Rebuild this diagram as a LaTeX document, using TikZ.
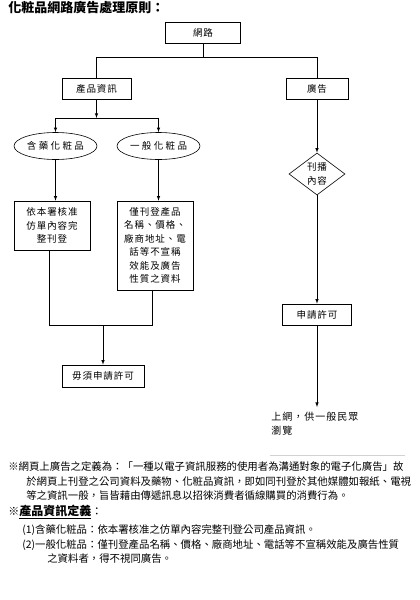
\documentclass[tikz,border=0pt]{standalone}
\usepackage{fontspec}
\setmainfont{Noto Sans CJK TC}
\newfontfamily\boxfont{Noto Sans CJK TC}[LetterSpace=10]
\newfontfamily\ovalfont{Noto Sans CJK TC}[LetterSpace=25]
\usetikzlibrary{shapes.geometric}

\begin{document}
\begin{tikzpicture}[x=1pt,y=-1pt,>=latex,line width=0.6pt,
	box/.style={draw,rectangle,inner sep=0pt,align=center,font=\boxfont\fontsize{9.5}{13.5}\selectfont},
	oval/.style={draw,ellipse,inner sep=0pt,minimum width=83pt,minimum height=27pt,font=\ovalfont\fontsize{9.5}{12}\selectfont},
	note/.style={anchor=west,inner sep=0pt,font=\fontsize{10.4}{12}\selectfont}]
		\useasboundingbox (0,0) rectangle (420,600);
		\node[anchor=west,inner sep=0pt,font=\bfseries\fontsize{13}{15}\selectfont](T) at (8,8){化粧品網路廣告處理原則：};
		\node[box,minimum width=75pt,minimum height=21pt](A) at (203,32.5){網路};
		\node[box,minimum width=69pt,minimum height=21pt](B) at (96.5,88.5){產品資訊};
		\node[box,minimum width=62pt,minimum height=21pt](C) at (317,88.5){廣告};
		\node[oval](D) at (55.5,146){含藥化粧品};
		\node[oval](E) at (158.5,146){一般化粧品};
		\node[box,minimum width=76pt,minimum height=49pt](F) at (52,225.5){依本署核准\\仿單內容完\\整刊登};
		\node[box,minimum width=76pt,minimum height=89pt](G) at (155,245.5){僅刊登產品\\名稱、價格、\\廠商地址、電\\話等不宣稱\\效能及廣告\\性質之資料};
		\node[draw,diamond,aspect=1.33,inner sep=0pt,minimum width=56pt,minimum height=42pt,align=center,font=\boxfont\fontsize{9.5}{14}\selectfont](H) at (317,174){刊播\\內容};
		\node[box,minimum width=69pt,minimum height=21pt](I) at (317,314.5){申請許可};
		\node[box,minimum width=82pt,minimum height=22pt](K) at (103,376){毋須申請許可};
		\node[anchor=north west,inner sep=0pt,align=left,font=\boxfont\fontsize{10}{14}\selectfont](J) at (271,412){上網，供一般民眾\\瀏覽};
		% joints
		\coordinate (a1) at (A.south |- 0,57);
		\coordinate (b1) at (B.south |- 0,118);
		\coordinate (f1) at (49,325);
		\coordinate (g1) at (152,325);
		\coordinate (m1) at (103,325);
		\coordinate (i1) at (317,407);
		\draw (A) -- (a1) -| (B);
		\draw (a1) -| (C);
		\draw[->] (B) -- (b1);
		\draw[->] (b1) -| (D);
		\draw[->] (b1) -| (E);
		\draw[->] (D.south) -- (D.south |- F.north);
		\draw[->] (E.south) -- (E.south |- G.north);
		\draw (F.south -| f1) -- (f1) -- (g1) -- (G.south -| g1);
		\draw[->] (m1) -- (K);
		\draw[->]
		(C) edge (H)
		(H) edge (I)
		(I) edge (i1);
		\draw[gray!35] (270,455) -- (405,455);
		% notes
		\node[note](L1) at (8,467){※網頁上廣告之定義為：「一種以電子資訊服務的使用者為溝通對象的電子化廣告」故};
		\node[note](L2) at (26,482){於網頁上刊登之公司資料及藥物、化粧品資訊，即如同刊登於其他媒體如報紙、電視};
		\node[note](L3) at (26,496){等之資訊一般，旨皆藉由傳遞訊息以招徠消費者循線購買的消費行為。};
		\node[note](M) at (8,512){\fontsize{11}{13}\selectfont※\underline{\textbf{\fontsize{12}{14}\selectfont 產品資訊定義}}：};
		\node[note](N1) at (22,530){(1)含藥化粧品：依本署核准之仿單內容完整刊登公司產品資訊。};
		\node[note](N2) at (22,545){(2)一般化粧品：僅刊登產品名稱、價格、廠商地址、電話等不宣稱效能及廣告性質};
		\node[note](N3) at (47,559){之資料者，得不視同廣告。};
		\end{tikzpicture}
\end{document}
